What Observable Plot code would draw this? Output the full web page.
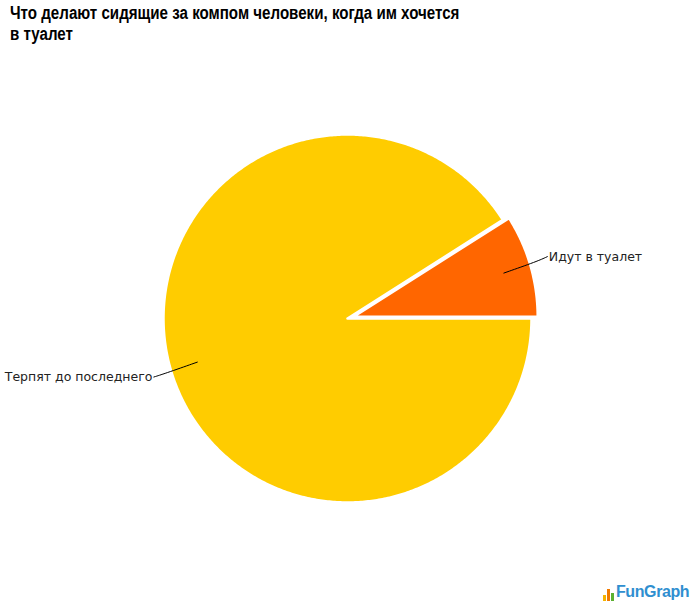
<!DOCTYPE html>
<html><head><meta charset="utf-8">
<script src="https://cdn.jsdelivr.net/npm/d3@7"></script>
<script src="https://cdn.jsdelivr.net/npm/@observablehq/plot@0.6"></script>
<style>
html,body{margin:0;padding:0;background:#fff;width:700px;height:614px;overflow:hidden;position:relative}
#title{position:absolute;left:10px;top:3px;font-family:"Liberation Sans","Arial",sans-serif;font-weight:bold;font-size:18px;line-height:21px;color:#000;white-space:nowrap;transform:scaleX(0.84);transform-origin:0 0}
#chart{position:absolute;left:0;top:50px}
#logo{position:absolute;left:603px;top:583px;font-family:"Liberation Sans",sans-serif;font-weight:bold;font-size:16px;color:#2f8fd0;display:flex;align-items:flex-end;height:18px}
#logo span.b{display:inline-block;width:3px;margin-right:1px}
</style></head>
<body>
<div id="title"></div>
<div id="chart"></div>
<div id="logo"><span class="b" style="height:6px;background:#f5b400"></span><span class="b" style="height:12px;background:#f07a00"></span><span class="b" style="height:8px;background:#5bb030"></span><span style="margin-left:1px;letter-spacing:-0.4px">FunGraph</span></div>
<script>
const titleLines = ["Что делают сидящие за компом человеки, когда им хочется", "в туалет"];
const categories = ["Идут в туалет", "Терпят до последнего"];
const values = [9, 91];
const colors = ["#FF6600", "#FFCC00"];

const t = document.getElementById("title");
titleLines.forEach((l, i) => { if (i) t.appendChild(document.createElement("br")); t.appendChild(document.createTextNode(l)); });

const W = 700, H = 564;
const cx = 347, cy = 268, R = 184;
const total = d3.sum(values);
let acc = 0;
const slices = categories.map((c, i) => {
  const a0 = acc / total * 2 * Math.PI;
  acc += values[i];
  const a1 = acc / total * 2 * Math.PI;
  return {name: c, value: values[i], a0, a1, mid: (a0 + a1) / 2, color: colors[i], explode: i === 0 ? 0.035 : 0};
});

const polyPts = [];
slices.forEach((s, i) => {
  const ox = s.explode * Math.cos(s.mid), oy = s.explode * Math.sin(s.mid);
  polyPts.push({i, x: ox, y: oy});
  const n = Math.max(8, Math.ceil((s.a1 - s.a0) / 0.01));
  for (let k = 0; k <= n; k++) {
    const a = s.a0 + (s.a1 - s.a0) * k / n;
    polyPts.push({i, x: ox + Math.cos(a), y: oy + Math.sin(a)});
  }
  polyPts.push({i, x: ox, y: oy});
});

const leader = [];
const labels = [];
slices.forEach((s, i) => {
  const c = Math.cos(s.mid), sn = Math.sin(s.mid);
  const ox = s.explode * c, oy = s.explode * sn;
  const side = c >= 0 ? 1 : -1;
  const vf = side > 0 ? 1.17 : 1.14;
  const p1 = {i, x: ox + 0.85 * c, y: oy + 0.85 * sn};
  const p2 = {i, x: ox + 1.04 * c, y: oy + 1.08 * sn};
  const p3 = {i, x: ox + 1.07 * c + side * 0.025, y: oy + vf * sn};
  leader.push(p1, p2, p3);
  labels.push({name: s.name, x: p3.x + side * 0.008, y: p3.y, anchor: side > 0 ? "start" : "end"});
});

const plot = Plot.plot({
  width: W, height: H,
  margin: 0,
  x: {domain: [-cx / R, (W - cx) / R], axis: null},
  y: {domain: [-(H - cy) / R, cy / R], axis: null},
  marks: [
    ...slices.map((s, i) => Plot.line(polyPts.filter(d => d.i === i), {x: "x", y: "y", fill: s.color, stroke: "white", strokeWidth: 2.5, strokeLinejoin: "round"})),
    Plot.line(leader, {x: "x", y: "y", z: "i", stroke: "#000", strokeWidth: 1, curve: "basis"}),
    Plot.text(labels.filter(d => d.anchor === "start"), {x: "x", y: "y", text: "name", textAnchor: "start", fontSize: 12.5, fontFamily: "DejaVu Sans, sans-serif", fill: "#222"}),
    Plot.text(labels.filter(d => d.anchor === "end"), {x: "x", y: "y", text: "name", textAnchor: "end", fontSize: 12.5, fontFamily: "DejaVu Sans, sans-serif", fill: "#222"})
  ]
});
document.getElementById("chart").appendChild(plot);
</script>
</body></html>
